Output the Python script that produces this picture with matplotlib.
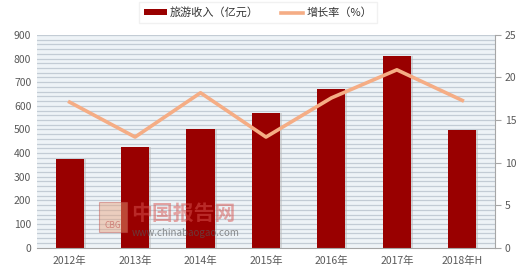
import numpy as np
import matplotlib.pyplot as plt
from matplotlib.patches import Rectangle

plt.rcParams['font.family'] = ['Noto Sans CJK SC', 'DejaVu Sans']

# Datos
anios = ["2012年", "2013年", "2014年", "2015年", "2016年", "2017年", "2018年H"]
ingresos = [374, 426, 504, 570, 671, 812, 497]  # 旅游收入（亿元）
crecimiento = [17.1, 13.0, 18.2, 13.0, 17.6, 20.9, 17.3]  # 增长率（%）

color_barra = "#990000"
color_linea = "#F5AD85"
color_texto = "#595959"

fig = plt.figure(figsize=(5.2, 2.73), dpi=100)
ax = fig.add_axes([0.071, 0.093, 0.881, 0.779])
ax.set_facecolor("#eef3f7")

x = np.arange(len(anios))

# Fondo rayado
for yy in np.arange(20, 901, 20):
    ax.axhline(yy, color="#c3ccd5", lw=0.9, zorder=0)

# Sombras y barras
ax.bar(x + 0.03, ingresos, width=0.43, color="#b8b8b8", alpha=0.5, zorder=1)
ax.bar(x, ingresos, width=0.43, color=color_barra, zorder=2, label="旅游收入（亿元）")

ax.set_xlim(-0.5, len(anios) - 0.5)
ax.set_ylim(0, 900)
ax.set_yticks(range(0, 901, 100))
ax.set_xticks(x)
ax.set_xticklabels(anios)
ax.tick_params(axis="y", length=0, labelsize=7.5, colors=color_texto, pad=4)
ax.tick_params(axis="x", length=0, labelsize=7.5, colors=color_texto, pad=6)
for s in ["top", "left", "right"]:
    ax.spines[s].set_visible(False)
ax.spines["bottom"].set_color("#a6a6a6")

ax2 = ax.twinx()
ax2.plot(x, crecimiento, color=color_linea, lw=2.6, zorder=3, label="增长率（%）")
ax2.set_ylim(0, 25)
ax2.set_yticks(range(0, 26, 5))
ax2.tick_params(axis="y", length=4, labelsize=7.5, colors=color_texto, pad=3)
ax2.tick_params(axis="y", color="#a6a6a6")
for s in ["top", "left", "bottom"]:
    ax2.spines[s].set_visible(False)
ax2.spines["right"].set_color("#a6a6a6")

# Leyenda
h1, l1 = ax.get_legend_handles_labels()
h2, l2 = ax2.get_legend_handles_labels()
leg = fig.legend(h1[-1:] + h2, l1[-1:] + l2, loc="center", bbox_to_anchor=(0.497, 0.953),
                 ncol=2, fontsize=8, frameon=True, fancybox=False, shadow=False,
                 handlelength=2.0, handleheight=0.5, handletextpad=0.3,
                 columnspacing=2.0, borderpad=0.45)
leg.get_frame().set_edgecolor("#eeeeee")
for t in leg.get_texts():
    t.set_color("#333333")

# Marca de agua
fig.patches.append(Rectangle((0.19, 0.15), 0.055, 0.11, transform=fig.transFigure,
                             facecolor="#e8a07a", edgecolor="#c0504d", alpha=0.45, lw=0.8))
fig.text(0.2175, 0.165, "CBG", fontsize=6, color="#c0504d", alpha=0.6, ha="center")
fig.text(0.252, 0.195, "中国报告网", fontsize=15, color="#d9534f", alpha=0.5, fontweight="bold")
fig.text(0.253, 0.135, "www.chinabaogao.com", fontsize=7, color="#555555", alpha=0.65)

fig.savefig("out.png", dpi=100)
